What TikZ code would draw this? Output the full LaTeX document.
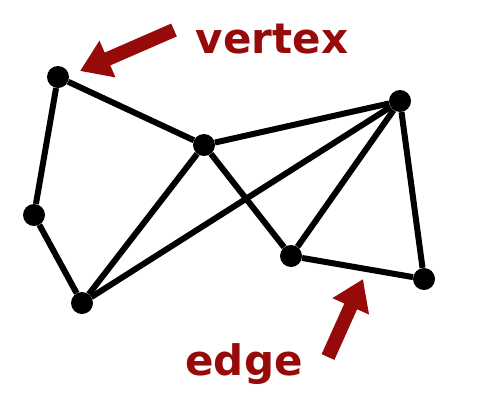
\documentclass[tikz,border=0pt]{standalone}
\usepackage{fontspec}
\setmainfont{DejaVu Sans}
\usetikzlibrary{arrows.meta}
\definecolor{marker}{RGB}{150,10,10}
\begin{document}
\begin{tikzpicture}[x=1pt,y=-1pt,
    dot/.style={circle,fill=black,inner sep=0pt,minimum size=22pt},
    link/.style={line width=6pt,black},
    pointer/.style={line width=14pt,marker,-{Triangle[width=38pt,length=30pt]}},
    label/.style={text=marker,font=\fontsize{42}{42}\selectfont\bfseries}]
        \useasboundingbox (0,0) rectangle (500,400);
        % vertices
        \node[dot] (A) at (58,77) {};
        \node[dot] (B) at (34,215) {};
        \node[dot] (C) at (82,303) {};
        \node[dot] (D) at (204,145) {};
        \node[dot] (E) at (400,101) {};
        \node[dot] (F) at (291,256) {};
        \node[dot] (G) at (424,279) {};
        % edges
        \draw[link] (A) -- (B) -- (C);
        \draw[link] (A) -- (D) -- (C);
        \draw[link] (D) -- (E);
        \draw[link] (D) -- (F);
        \draw[link] (C) -- (E);
        \draw[link] (E) -- (F) -- (G) -- (E);
        % annotations
        \node[label,anchor=base] (vlabel) at (272,53) {vertex};
        \node[label,anchor=base] (elabel) at (244,375) {edge};
        \coordinate (vtail) at (174,30);
        \coordinate (vtip) at (80,71);
        \coordinate (etail) at (328,357);
        \coordinate (etip) at (363,279);
        \draw[pointer] (vtail) -- (vtip);
        \draw[pointer] (etail) -- (etip);
    \end{tikzpicture}
\end{document}
